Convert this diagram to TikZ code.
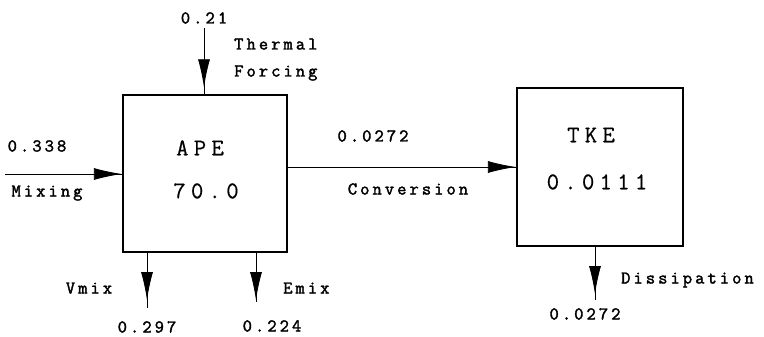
\documentclass[tikz,border=0pt]{standalone}
\usepackage{fontspec}
\newfontfamily\lblfont{Latin Modern Mono}[LetterSpace=17,FakeBold=2]
\newfontfamily\bigfont{Latin Modern Mono}[LetterSpace=22,FakeBold=0.5]
\usetikzlibrary{arrows.meta,decorations.markings}

\begin{document}
\begin{tikzpicture}[
  x=1pt,y=-1pt,
  blk/.style={draw,line width=1.3pt,minimum width=164pt,minimum height=157pt,inner sep=0pt},
  big/.style={font=\fontsize{24}{26}\bigfont,inner sep=0pt,text height=14.6pt,text depth=0pt},
  lbl/.style={font=\fontsize{18}{20}\lblfont,inner sep=0pt,text height=11pt,text depth=0pt},
  flw/.style={line width=0.8pt,postaction={decorate},
    decoration={markings,mark=at position #1 with {\arrow{Latex[length=28pt,width=12pt]}}}}
]
\useasboundingbox (0,0) rectangle (764,337);

% ---- reservoirs
\node[blk] (ape) at (205,173.5) {};
\node[blk,minimum width=166pt,minimum height=158pt] (tke) at (600,167) {};
\node[big] (apen) at (200,148) {APE};
\node[big] (apev) at (206,191) {70.0};
\node[big] (tken) at (591,135) {TKE};
\node[big] (tkev) at (597,182) {0.0111};

% ---- free ends
\coordinate (mixin) at (5,174);
\coordinate (thin) at (204,28);
\coordinate (vout) at (147,308);
\coordinate (eout) at (256,302);
\coordinate (dout) at (595,300);

% ---- flows
\draw[flw=-0.5pt] (mixin) -- (mixin -| ape.west);
\draw[flw=-7pt] (thin) -- (thin |- ape.north);
\draw[flw=-0.5pt] (ape.east |- tke.west) -- (tke.west);
\draw[flw=-8pt] (vout |- ape.south) -- (vout);
\draw[flw=-2pt] (eout |- ape.south) -- (eout);
\draw[flw=-6pt] (dout |- tke.south) -- (dout);

% ---- labels
\node[lbl] (mixv) at (37,146) {0.338};
\node[lbl] (mixt) at (47,191) {Mixing};
\node[lbl] (thv) at (204,18) {0.21};
\node[lbl,anchor=west] (tht1) at (234,44) {Thermal};
\node[lbl,anchor=west] (tht2) at (234,71) {Forcing};
\node[lbl] (cvv) at (373,136) {0.0272};
\node[lbl] (cvt) at (408,189) {Conversion};
\node[lbl] (vmt) at (89,288) {Vmix};
\node[lbl] (vmv) at (147,327) {0.297};
\node[lbl,anchor=west] (emt) at (283,288) {Emix};
\node[lbl] (emv) at (272,326) {0.224};
\node[lbl,anchor=west] (dst) at (621,278) {Dissipation};
\node[lbl] (dsv) at (585,314) {0.0272};
\end{tikzpicture}
\end{document}
